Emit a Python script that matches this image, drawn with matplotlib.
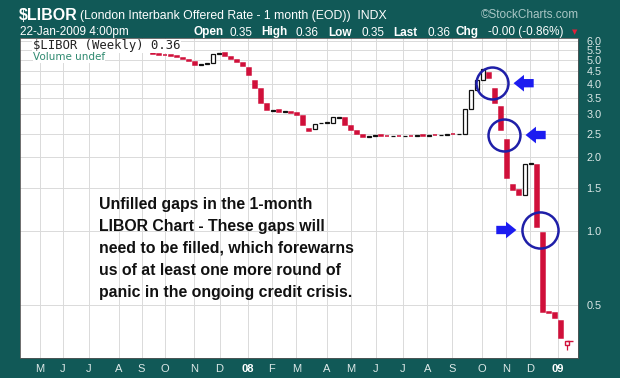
import matplotlib.pyplot as plt
from matplotlib.transforms import offset_copy

plt.rcParams['font.family'] = ['Liberation Sans', 'DejaVu Sans']

# weekly bars, x = week index on the chart
week = list(range(15, 92))
opens = [5.44, 5.70, 5.78, 5.82, 5.75, 5.80, 5.72, 5.48, 5.30, 5.28,
         5.26, 5.20, 5.12, 5.02, 4.90, 4.80, 4.84, 4.88, 5.32, 5.35,
         5.15, 5.00, 4.88, 4.65, 4.10, 3.80, 3.30, 3.10, 3.12, 3.08,
         3.08, 3.04, 2.95, 2.62, 2.62, 2.76, 2.78, 2.78, 2.90, 2.90,
         2.70, 2.57, 2.48, 2.42, 2.46, 2.47, 2.46, 2.45, 2.46, 2.45,
         2.46, 2.46, 2.47, 2.46, 2.475, 2.47, 2.48, 2.495, 2.49, 2.50,
         3.17, 3.77, 4.14, 4.45, 3.82, 3.21, 2.35, 1.54, 1.47, 1.41,
         1.88, 1.86, 0.98, 0.466, 0.46, 0.427, 0.341]
closes = [5.47, 5.78, 5.82, 5.75, 5.80, 5.72, 5.68, 5.30, 5.28, 5.26,
          5.22, 5.15, 5.05, 4.96, 4.80, 4.82, 4.88, 5.30, 5.36, 5.20,
          5.08, 4.92, 4.75, 4.35, 3.85, 3.35, 3.12, 3.12, 3.08, 3.10,
          3.04, 2.98, 2.72, 2.57, 2.75, 2.78, 2.80, 2.92, 2.92, 2.72,
          2.58, 2.50, 2.42, 2.46, 2.47, 2.46, 2.45, 2.46, 2.45, 2.46,
          2.455, 2.47, 2.46, 2.47, 2.47, 2.48, 2.49, 2.49, 2.50, 3.17,
          3.77, 4.14, 4.60, 4.25, 3.33, 2.60, 1.65, 1.47, 1.40, 1.88,
          1.90, 1.04, 0.465, 0.46, 0.44, 0.363, 0.353]
last_low = 0.325

month_pos = [3.1, 7.0, 11.3, 16.3, 20.1, 24.0, 28.8, 33.1, 37.8, 41.8, 45.9,
             51.0, 55.0, 59.1, 63.6, 67.7, 71.8, 76.8, 80.8, 84.8, 89.5]
month_labels = ['M', 'J', 'J', 'A', 'S', 'O', 'N', 'D', '08', 'F', 'M',
                'A', 'M', 'J', 'J', 'A', 'S', 'O', 'N', 'D', '09']
price_ticks = [6.0, 5.5, 5.0, 4.5, 4.0, 3.5, 3.0, 2.5, 2.0, 1.5, 1.0, 0.5]

# gaps to circle: (week before gap, week after gap)
gaps = [(78, 79), (80, 81), (86, 87)]
circle_size = [23, 23, 26]
arrow_side = [1, 1, -1]

note = ("Unfilled gaps in the 1-month\nLIBOR Chart - These gaps will\n"
        "need to be filled, which forewarns\nus of at least one more round of\n"
        "panic in the ongoing credit crisis.")

teal = '#115957'
red = '#d0103a'
light = '#dce8e7'

fig = plt.figure(figsize=(6.2, 3.78), dpi=100, facecolor=teal)
ax = fig.add_axes([20/620, 20/378, 558/620, 320/378])
ax.set_facecolor('white')

ax.set_yscale('log')
ax.set_ylim(0.302, 6.17)
ax.set_xlim(-0.17, 92.83)
ax.set_yticks(price_ticks)
ax.set_yticklabels(['%.1f' % v for v in price_ticks])
ax.yaxis.set_minor_locator(plt.NullLocator())
ax.yaxis.tick_right()
ax.tick_params(axis='y', length=0, pad=6, labelsize=7.8, labelcolor=light)
ax.set_xticks(month_pos)
ax.set_xticklabels(month_labels)
ax.tick_params(axis='x', length=0, pad=4, labelsize=8, labelcolor=light)
for lab in ax.get_xticklabels():
    if lab.get_text() in ('08', '09'):
        lab.set_fontweight('bold')
        lab.set_color('white')
ax.grid(True, color='#dadada', lw=0.7)
ax.set_axisbelow(True)
for s in ax.spines.values():
    s.set_color('#555555')
    s.set_linewidth(0.6)

for x, o, c in zip(week[:-1], opens[:-1], closes[:-1]):
    lo, hi = min(o, c), max(o, c)
    if c < o:
        ax.bar(x, hi - lo, bottom=lo, width=0.8, color=red, edgecolor=red,
               lw=1.1, zorder=3)
    else:
        ax.bar(x, hi - lo, bottom=lo, width=0.8, facecolor='white',
               edgecolor='#111111', lw=0.9, zorder=3)

# last (current) week
xl, ol, cl = week[-1], opens[-1], closes[-1]
ax.vlines(xl, last_low, min(ol, cl), color=red, lw=0.9, zorder=3)
ax.bar(xl, abs(cl - ol), bottom=min(ol, cl), width=0.8, facecolor='white',
       edgecolor=red, lw=1.0, zorder=4)
ax.hlines(cl, xl, xl + 1.0, color=red, lw=1.0, zorder=4)

for (a, b), ms, side in zip(gaps, circle_size, arrow_side):
    xc = (a + b) / 2
    yc = (closes[week.index(a)] * opens[week.index(b)]) ** 0.5
    ax.plot(xc, yc, 'o', ms=ms, mfc='none', mec='#1f1fa8', mew=1.8, zorder=5)
    tip = offset_copy(ax.transData, fig=fig, x=side * (ms / 2 + 4), y=0,
                      units='points')
    ax.annotate('', xy=(xc, yc), xycoords=tip, xytext=(side * 14.5, 0),
                textcoords='offset points', zorder=5,
                arrowprops=dict(arrowstyle='simple,head_length=0.75,head_width=1.2,tail_width=0.6',
                                fc='#1c1cf0', ec='none', shrinkA=0, shrinkB=0,
                                mutation_scale=10))

ax.text(0.1416, 0.503, note, transform=ax.transAxes, fontsize=11.4,
        fontweight='bold', va='top', ha='left', linespacing=1.58,
        color='#111111', zorder=6)

ax.text(0.023, 0.996, '$LIBOR (Weekly) 0.36', transform=ax.transAxes,
        family='DejaVu Sans Mono', fontsize=8.8, color='#222222', va='top',
        ha='left', zorder=6, bbox=dict(fc='white', ec='none', pad=0.3))
ax.text(0.023, 0.955, 'Volume undef', transform=ax.transAxes,
        family='DejaVu Sans', fontsize=7.5, color='#2f8a70', va='top',
        ha='left', zorder=6, bbox=dict(fc='white', ec='none', pad=0.2))

# header
def hdr(px, py, s, **kw):
    fig.text(px / 620, 1 - py / 378, s, va='baseline', **kw)

hdr(19, 20, '$LIBOR', fontsize=11.5, fontweight='bold', color='white')
hdr(80, 19.5, '(London Interbank Offered Rate - 1 month (EOD))  INDX',
    fontsize=8.8, color='white')
hdr(579, 18.5, '©StockCharts.com', fontsize=8.5, color='#a9c6c5', ha='right')
hdr(20, 35.5, '22-Jan-2009 4:00pm', fontsize=8.5, color='white')
ohlc = [('Open', 194, 'bold'), ('0.35', 229, 'normal'),
        ('High', 261, 'bold'), ('0.36', 296, 'normal'),
        ('Low', 328, 'bold'), ('0.35', 362, 'normal'),
        ('Last', 393, 'bold'), ('0.36', 427, 'normal'),
        ('Chg', 456, 'bold'), ('-0.00 (-0.86%)', 488, 'normal')]
for s, px, w in ohlc:
    hdr(px, 35.5, s, fontsize=8.5, fontweight=w, color='white')
hdr(572, 34, '▼', fontsize=5, color='#e0203a', family='DejaVu Sans')

fig.savefig('out.png', dpi=100, facecolor=teal)
